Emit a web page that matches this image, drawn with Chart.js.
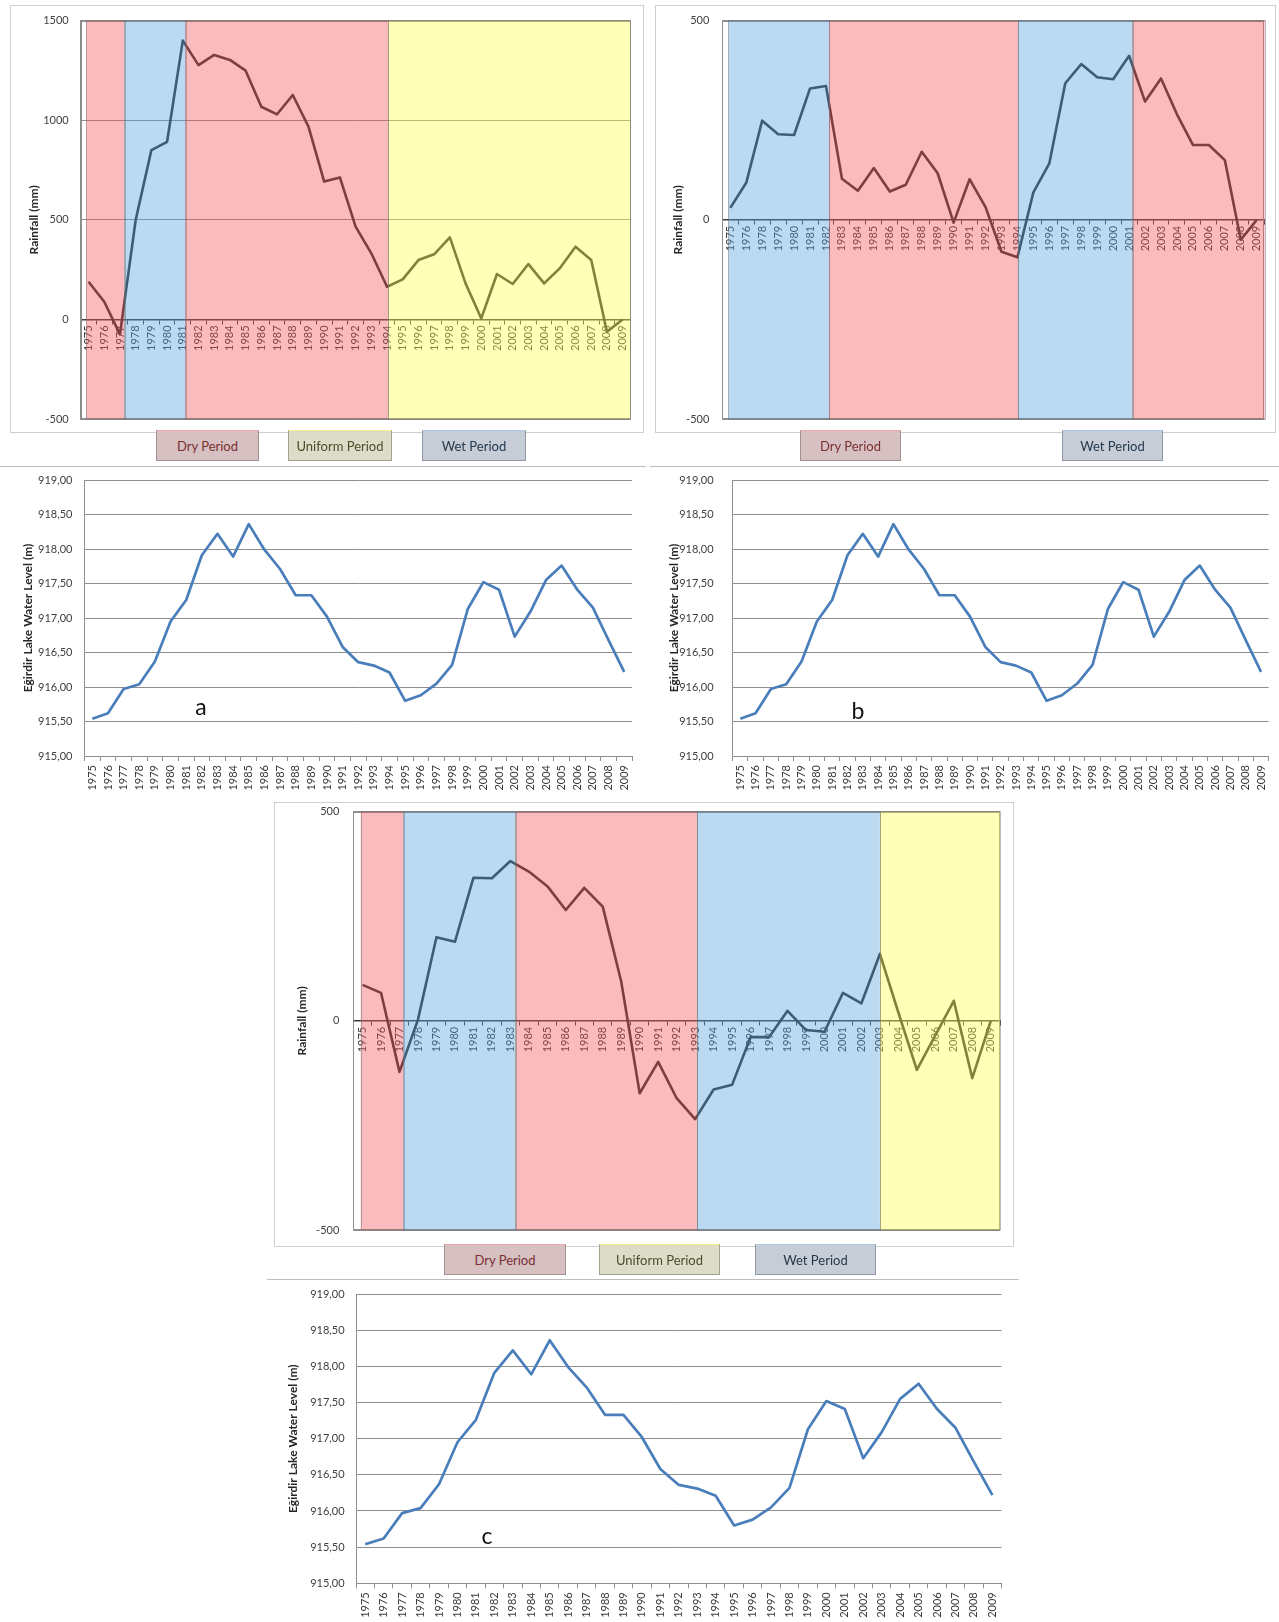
<!DOCTYPE html>
<html>
<head>
<meta charset="utf-8">
<title>Eğirdir Lake: rainfall periods and water level</title>
<script src="https://cdn.jsdelivr.net/npm/chart.js@4.4.1/dist/chart.umd.min.js"></script>
<style>
  html, body { margin: 0; padding: 0; background: #fff; }
  body { position: relative; width: 1279px; height: 1622px; overflow: hidden; font-family: Lato, "Open Sans", sans-serif; }
  canvas { position: absolute; }
  .frame { position: absolute; box-sizing: border-box; border: 1px solid #cfcfcf; }
  .rule { position: absolute; height: 0; border-top: 1.5px solid #bdbdbd; }
  .key { position: absolute; box-sizing: border-box; display: flex; align-items: center; justify-content: center;
         font-size: 13px; border: 1px solid; z-index: 2; }
  .key.dry { background: #d6c0c1; border-color: #a39192; border-top-color: #f3a7ab; color: #7a2f33; }
  .key.uniform { background: #dcdcc9; border-color: #a3a38d; border-top-color: #eded92; color: #4c4c2b; }
  .key.wet { background: #c6cdd7; border-color: #8f99a6; border-top-color: #a9c9e7; color: #25374b; }
  .tag { position: absolute; font-size: 23px; color: #111; transform: translate(-50%, -50%); }
</style>
</head>
<body>
<script>
// ---- categories ----------------------------------------------------------
const yearsAll = ['1975','1976','1977','1978','1979','1980','1981','1982','1983','1984',
                  '1985','1986','1987','1988','1989','1990','1991','1992','1993','1994',
                  '1995','1996','1997','1998','1999','2000','2001','2002','2003','2004',
                  '2005','2006','2007','2008','2009'];
// station series b has no 1977 record
const yearsB = ['1975','1976','1978','1979','1980','1981','1982','1983','1984',
                '1985','1986','1987','1988','1989','1990','1991','1992','1993','1994',
                '1995','1996','1997','1998','1999','2000','2001','2002','2003','2004',
                '2005','2006','2007','2008','2009'];

// ---- rainfall series (mm) ------------------------------------------------
const rainA = [189, 89, -75, 499, 850, 892, 1400, 1277, 1328, 1303,
               1249, 1068, 1030, 1127, 968, 692, 713, 466, 332, 164,
               201, 298, 327, 412, 181, 5, 228, 178, 278, 181,
               257, 365, 298, -62, 0];
const rainB = [30, 93, 249, 215, 213, 330, 336, 103, 73,
               130, 71, 88, 171, 117, -7, 102, 32, -80, -94,
               69, 142, 343, 391, 358, 353, 412, 297, 355, 265,
               188, 188, 150, -50, 0];
const rainC = [86, 67, -122, 3, 200, 189, 342, 341, 382, 357,
               322, 265, 318, 273, 94, -173, -98, -185, -235, -164,
               -153, -39, -39, 24, -22, -26, 67, 42, 160, 20,
               -117, -35, 48, -137, 0];

// ---- Eğirdir Lake water level (m) ----------------------------------------
const lakeLevel = [915.54, 915.62, 915.97, 916.04, 916.37, 916.95, 917.26, 917.91, 918.22, 917.89,
                   918.36, 917.99, 917.71, 917.33, 917.33, 917.02, 916.58, 916.36, 916.31, 916.21,
                   915.80, 915.88, 916.05, 916.32, 917.13, 917.52, 917.41, 916.73, 917.09, 917.55,
                   917.76, 917.41, 917.15, 916.68, 916.22];

// ---- period classification (category index spans) -------------------------
const periodsA = [
  { period: 'dry',     from: -0.15, to: 2.29 },
  { period: 'wet',     from: 2.29,  to: 6.16 },
  { period: 'dry',     from: 6.16,  to: 19.08 },
  { period: 'uniform', from: 19.08, to: 34.5 }
];
const periodsB = [
  { period: 'wet', from: -0.12, to: 6.19 },
  { period: 'dry', from: 6.19,  to: 18.06 },
  { period: 'wet', from: 18.06, to: 25.23 },
  { period: 'dry', from: 25.23, to: 33.5 }
];
const periodsC = [
  { period: 'dry',     from: -0.1, to: 2.21 },
  { period: 'wet',     from: 2.21, to: 8.29 },
  { period: 'dry',     from: 8.29, to: 18.1 },
  { period: 'wet',     from: 18.1, to: 28.0 },
  { period: 'uniform', from: 28.0, to: 34.5 }
];

const periodNames = { dry: 'Dry Period', uniform: 'Uniform Period', wet: 'Wet Period' };
const periodFill = {
  dry: 'rgba(242, 85, 95, 0.4)',
  wet: 'rgba(85, 160, 217, 0.4)',
  uniform: 'rgba(255, 255, 80, 0.4)'
};

// ---- plugins ---------------------------------------------------------------
// thin border round the plotting area
const plotFrame = {
  id: 'plotFrame',
  beforeDatasetsDraw(chart, args, opts) {
    const { ctx, chartArea: a } = chart;
    ctx.save();
    ctx.strokeStyle = opts.color || '#8e8e8e';
    ctx.lineWidth = 1;
    ctx.strokeRect(Math.round(a.left) + 0.5, Math.round(a.top) + 0.5,
                   Math.round(a.width) - 1, Math.round(a.height) - 1);
    ctx.restore();
  }
};

// translucent period shading laid over the whole plot (tints line and labels too)
const periodBands = {
  id: 'periodBands',
  afterDraw(chart, args, opts) {
    const { ctx, chartArea: a, scales: { x } } = chart;
    ctx.save();
    for (const b of opts.bands || []) {
      const x0 = Math.max(a.left, x.getPixelForValue(b.from));
      const x1 = Math.min(a.right, x.getPixelForValue(b.to));
      ctx.fillStyle = periodFill[b.period];
      ctx.fillRect(x0, a.top, x1 - x0, a.height);
      ctx.strokeStyle = 'rgba(105, 105, 105, 0.45)';
      ctx.lineWidth = 1;
      ctx.strokeRect(Math.round(x0) + 0.5, a.top, Math.round(x1 - x0), a.height);
    }
    ctx.restore();
  }
};

// ---- page helpers ----------------------------------------------------------
function addCanvas(x, y, w, h) {
  const c = document.createElement('canvas');
  c.width = w; c.height = h;
  c.style.left = x + 'px'; c.style.top = y + 'px';
  c.style.width = w + 'px'; c.style.height = h + 'px';
  document.body.appendChild(c);
  return c;
}
function addDiv(cls, x, y, w, h, text) {
  const d = document.createElement('div');
  d.className = cls;
  d.style.left = x + 'px'; d.style.top = y + 'px';
  if (w != null) d.style.width = w + 'px';
  if (h != null) d.style.height = h + 'px';
  if (text != null) d.textContent = text;
  document.body.appendChild(d);
  return d;
}
function addKey(period, x, y, w, h) { addDiv('key ' + period, x, y, w, h, periodNames[period]); }

const tickFont = { family: 'Lato', size: 11 };
const titleFont = { family: 'Lato', size: 12, weight: 'bold' };

function rainChart(canvas, labels, values, bands, box) {
  return new Chart(canvas, {
    type: 'line',
    data: {
      labels: labels,
      datasets: [{ data: values, borderColor: '#2f2f2f', borderWidth: 2.6, pointRadius: 0,
                   tension: 0, borderJoinStyle: 'round', fill: false }]
    },
    options: {
      responsive: false, animation: false, events: [],
      layout: { padding: { left: 0, top: box.padTop, right: box.padRight, bottom: box.padBottom } },
      plugins: { legend: { display: false }, tooltip: { enabled: false },
                 periodBands: { bands: bands }, plotFrame: { color: '#8e8e8e' } },
      scales: {
        x: {
          type: 'category', position: { y: 0 }, offset: true,
          grid: { drawOnChartArea: false, offset: true, tickLength: 4, color: '#3c3c3c' },
          border: { color: '#3c3c3c', width: 1.5 },
          ticks: { autoSkip: false, minRotation: 90, maxRotation: 90, padding: 2,
                   color: '#3a3a3a', font: tickFont },
          afterFit: s => { s.paddingLeft = 0; s.paddingRight = 0; }
        },
        y: {
          min: box.yMin, max: box.yMax,
          ticks: { stepSize: 500, padding: box.tickPad, color: '#404040', font: tickFont,
                   callback: v => String(v) },
          grid: { color: '#8e8e8e', drawTicks: false },
          border: { color: '#8e8e8e' },
          title: { display: true, text: 'Rainfall (mm)', color: '#262626', font: titleFont,
                   padding: { top: box.titlePad, bottom: 0 } },
          afterFit: s => { s.width = box.axisWidth; s.paddingTop = 0; s.paddingBottom = 0; }
        }
      }
    },
    plugins: [plotFrame, periodBands]
  });
}

function lakeChart(canvas, box) {
  return new Chart(canvas, {
    type: 'line',
    data: {
      labels: yearsAll,
      datasets: [{ data: lakeLevel, borderColor: '#4a7ebb', borderWidth: 2.7, pointRadius: 0,
                   tension: 0, borderJoinStyle: 'round', fill: false }]
    },
    options: {
      responsive: false, animation: false, events: [],
      layout: { padding: { left: 0, top: box.padTop, right: box.padRight, bottom: box.padBottom } },
      plugins: { legend: { display: false }, tooltip: { enabled: false } },
      scales: {
        x: {
          type: 'category', offset: true,
          grid: { drawOnChartArea: false, offset: true, tickLength: 5, color: '#8e8e8e' },
          border: { color: '#8e8e8e' },
          ticks: { autoSkip: false, minRotation: 90, maxRotation: 90, padding: 4,
                   color: '#3a3a3a', font: tickFont },
          afterFit: s => { s.height = box.axisHeight; s.paddingLeft = 0; s.paddingRight = 0; }
        },
        y: {
          min: 915, max: 919,
          ticks: { stepSize: 0.5, padding: box.tickPad, color: '#404040', font: tickFont,
                   callback: v => v.toFixed(2).replace('.', ',') },
          grid: { color: '#8e8e8e', drawTicks: false },
          border: { color: '#8e8e8e' },
          title: { display: true, text: 'Eğirdir Lake Water Level (m)', color: '#262626', font: titleFont,
                   padding: { top: box.titlePad, bottom: 0 } },
          afterFit: s => { s.width = box.axisWidth; s.paddingTop = 0; s.paddingBottom = 0; }
        }
      }
    }
  });
}

// ---- panel a ---------------------------------------------------------------
addDiv('frame', 10, 5, 634, 428);
rainChart(addCanvas(10, 6, 634, 427), yearsAll, rainA, periodsA,
  { yMin: -500, yMax: 1500, axisWidth: 70.7, padTop: 14.7, padRight: 13.5, padBottom: 14,
    tickPad: 12, titlePad: 17.3 });
addKey('dry', 156, 430, 103, 31);
addKey('uniform', 288, 430, 104, 31);
addKey('wet', 422, 430, 104, 31);
addDiv('rule', 0, 466, 646, null);
lakeChart(addCanvas(0, 470, 646, 330),
  { axisWidth: 84.5, padTop: 10, padRight: 14, padBottom: 4, axisHeight: 40, tickPad: 12, titlePad: 20.8 });
addDiv('tag', 201, 706, null, null, 'a');

// ---- panel b ---------------------------------------------------------------
addDiv('frame', 655, 5, 621, 428);
rainChart(addCanvas(655, 6, 621, 427), yearsB, rainB, periodsB,
  { yMin: -500, yMax: 500, axisWidth: 67.3, padTop: 14.7, padRight: 11.3, padBottom: 14,
    tickPad: 13, titlePad: 15.7 });
addKey('dry', 800, 430, 101, 31);
addKey('wet', 1062, 430, 101, 31);
addDiv('rule', 650, 466, 629, null);
lakeChart(addCanvas(650, 470, 629, 330),
  { axisWidth: 82.6, padTop: 10, padRight: 10.3, padBottom: 4, axisHeight: 40, tickPad: 19, titlePad: 16.5 });
addDiv('tag', 858, 710, null, null, 'b');

// ---- panel c ---------------------------------------------------------------
addDiv('frame', 274, 802, 740, 445);
rainChart(addCanvas(274, 802, 740, 445), yearsAll, rainC, periodsC,
  { yMin: -500, yMax: 500, axisWidth: 79.3, padTop: 9.7, padRight: 14, padBottom: 17,
    tickPad: 14, titlePad: 21.3 });
addKey('dry', 444, 1244, 122, 31);
addKey('uniform', 599, 1244, 121, 31);
addKey('wet', 755, 1244, 121, 31);
addDiv('rule', 267, 1279, 752, null);
lakeChart(addCanvas(262, 1282, 758, 340),
  { axisWidth: 94, padTop: 12, padRight: 18.4, padBottom: 0.7, axisHeight: 38, tickPad: 11.4, titlePad: 23.7 });
addDiv('tag', 487, 1535, null, null, 'c');
</script>
</body>
</html>
